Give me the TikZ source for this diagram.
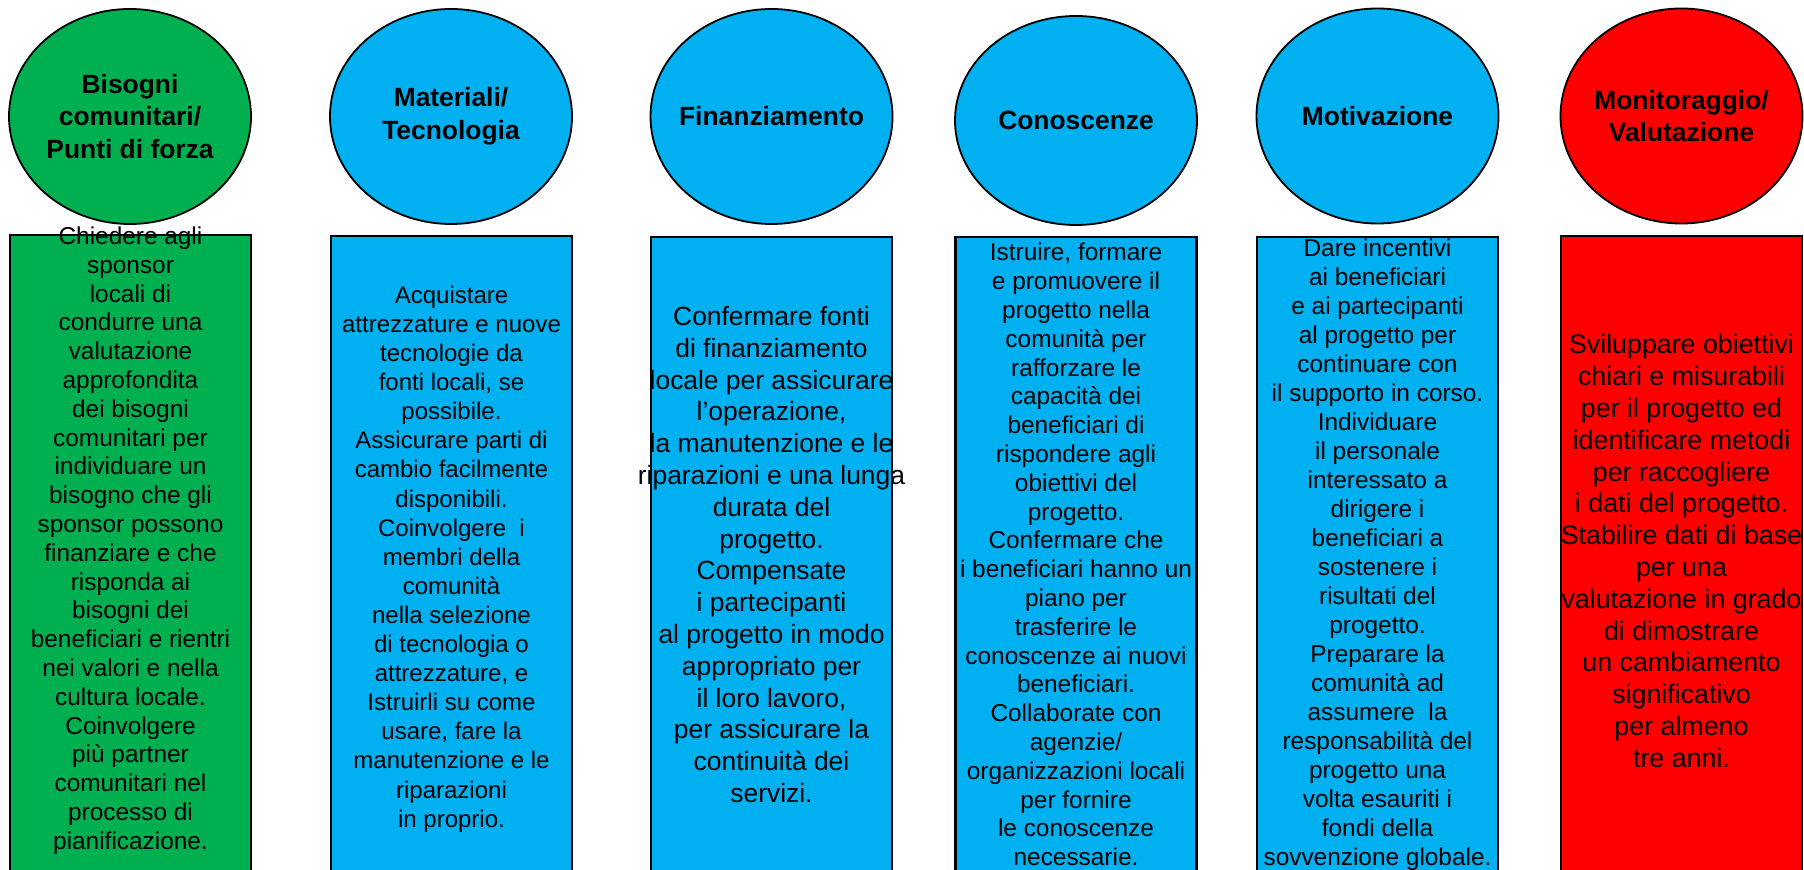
\documentclass[tikz,border=0pt]{standalone}
\usepackage{fontspec}
\setmainfont{Liberation Sans}
\usetikzlibrary{shapes.geometric}
\definecolor{cgreen}{HTML}{00B050}
\definecolor{cblue}{HTML}{00B0F0}
\definecolor{cred}{HTML}{FF0000}
\tikzset{
  head/.style={ellipse, draw=black, line width=0.9pt, inner sep=0pt,
    minimum width=121pt, minimum height=107.5pt},
  headtxt/.style={align=center, inner sep=0pt, text=black,
    font=\bfseries\fontsize{13.2pt}{16.4pt}\selectfont},
  col/.style={rectangle, draw=black, line width=1.2pt, inner sep=0pt,
    minimum width=120.5pt, minimum height=340pt, anchor=north},
  txt/.style={align=center, inner sep=0pt, text=black,
    font=\fontsize{12.2pt}{14.4pt}\selectfont},
  txtmid/.style={align=center, inner sep=0pt, text=black,
    font=\fontsize{12pt}{14.55pt}\selectfont},
  txtwide/.style={align=center, inner sep=0pt, text=black,
    font=\fontsize{13.2pt}{15.9pt}\selectfont},
  txtred/.style={align=center, inner sep=0pt, text=black,
    font=\fontsize{13.4pt}{15.9pt}\selectfont}
}
\begin{document}
\begin{tikzpicture}[x=0.5pt,y=-0.5pt]
\useasboundingbox (0,0) rectangle (1804,870);
\clip (0,0) rectangle (1804,870);
\fill[white] (0,0) rectangle (1804,870);

% header ellipses
\node[head, fill=cgreen] (h1) at (130,116.5) {};
\node[head, fill=cblue]  (h2) at (451,116.5) {};
\node[head, fill=cblue]  (h3) at (771.5,116.5) {};
\node[head, fill=cblue, minimum height=104.5pt] (h4) at (1076,120.5) {};
\node[head, fill=cblue]  (h5) at (1377.5,116) {};
\node[head, fill=cred]   (h6) at (1681.5,116) {};

\node[headtxt] (l1) at (h1.center) {Bisogni\\comunitari/\\Punti di forza};
\node[headtxt] (l2) at (h2.center) {Materiali/\\Tecnologia};
\node[headtxt] (l3) at (h3.center) {Finanziamento};
\node[headtxt] (l4) at (h4.center) {Conoscenze};
\node[headtxt] (l5) at (h5.center) {Motivazione};
\node[headtxt] (l6) at (h6.center) {Monitoraggio/\\Valutazione};

% columns
\node[col, fill=cgreen] (b1) at (130.5,234) {};
\node[col, fill=cblue]  (b2) at (451.5,235) {};
\node[col, fill=cblue]  (b3) at (771.5,236) {};
\node[col, fill=cblue]  (b4) at (1076,236) {};
\node[col, fill=cblue]  (b5) at (1377.5,236) {};
\node[col, fill=cred]   (b6) at (1681.5,235) {};

% column texts
\node[txt] (t1) at (130.5,540.5) {Chiedere agli\\sponsor\\locali di\\condurre una\\valutazione\\approfondita\\dei bisogni\\comunitari per\\individuare un\\bisogno che gli\\sponsor possono\\finanziare e che\\risponda ai\\bisogni dei\\beneficiari e rientri\\nei valori e nella\\cultura locale.\\Coinvolgere\\più partner\\comunitari nel\\processo di\\pianificazione.};
\node[txtmid] (t2) at (451.5,559) {Acquistare\\attrezzature e nuove\\tecnologie da\\fonti locali, se\\possibile.\\Assicurare parti di\\cambio facilmente\\disponibili.\\Coinvolgere~~i\\membri della\\comunità\\nella selezione\\di tecnologia o\\attrezzature, e\\Istruirli su come\\usare, fare la\\manutenzione e le\\riparazioni\\in proprio.};
\node[txtwide] (t3) at (771.5,554.5) {Confermare fonti\\di finanziamento\\locale per assicurare\\l’operazione,\\la manutenzione e le\\riparazioni e una lunga\\durata del\\progetto.\\Compensate\\i partecipanti\\al progetto in modo\\appropriato per\\il loro lavoro,\\per assicurare la\\continuità dei\\servizi.};
\node[txt] (t4) at (1076,554.5) {Istruire, formare\\e promuovere il\\progetto nella\\comunità per\\rafforzare le\\capacità dei\\beneficiari di\\rispondere agli\\obiettivi del\\progetto.\\Confermare che\\i beneficiari hanno un\\piano per\\trasferire le\\conoscenze ai nuovi\\beneficiari.\\Collaborate con\\agenzie/\\organizzazioni locali\\per fornire\\le conoscenze\\necessarie.};
\node[txtmid, font=\fontsize{12.2pt}{14.5pt}\selectfont] (t5) at (1377.5,555) {Dare incentivi\\ai beneficiari\\e ai partecipanti\\al progetto per\\continuare con\\il supporto in corso.\\Individuare\\il personale\\interessato a\\dirigere i\\beneficiari a\\sostenere i\\risultati del\\progetto.\\Preparare la\\comunità ad\\assumere~~la\\responsabilità del\\progetto una\\volta esauriti i\\fondi della\\sovvenzione globale.};
\node[txtred] (t6) at (1681.5,551) {Sviluppare obiettivi\\chiari e misurabili\\per il progetto ed\\identificare metodi\\per raccogliere\\i dati del progetto.\\Stabilire dati di base\\per una\\valutazione in grado\\di dimostrare\\un cambiamento\\significativo\\per almeno\\tre anni.};
\end{tikzpicture}
\end{document}
